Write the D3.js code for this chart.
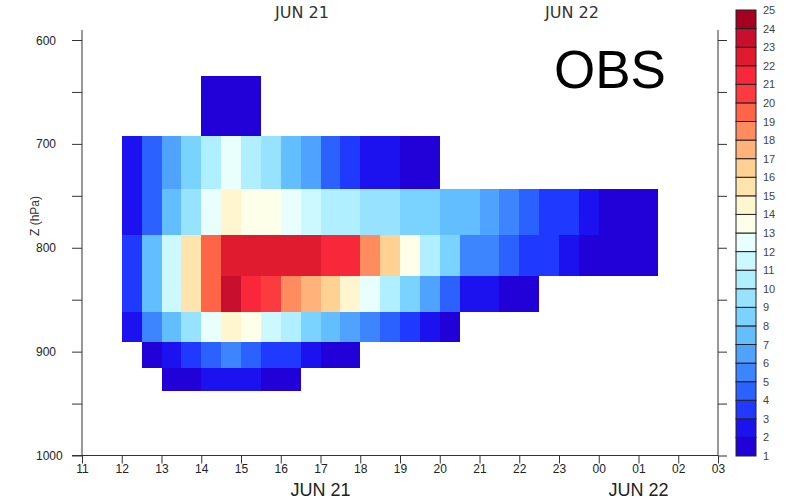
<!DOCTYPE html>
<html>
<head>
<meta charset="utf-8">
<script src="https://cdn.jsdelivr.net/npm/d3@7"></script>
<style>
  html, body { margin: 0; padding: 0; background: #fff; }
  svg { display: block; font-family: "Liberation Sans", Arial, sans-serif; }
</style>
</head>
<body>
<svg id="chart" width="787" height="500"></svg>
<script>
// ---------------- DATA ----------------
// hour ticks (11 on Jun 21 through 03 on Jun 22), expressed as hours from Jun 21 00:00
const hourTicks = d3.range(11, 28);
const pressureTicks = [600, 700, 800, 900, 1000];
const pressureMinorTicks = [650, 750, 850, 950];
// vertical bin edges (hPa) of the observed layers, top to bottom
const levelEdges = [635, 692, 743, 788, 827, 862, 891, 916, 938];
// start hour of each layer's first half-hour cell
const rowStarts = [14, 12, 12, 12, 12, 12, 12.5, 13];
// half-hourly values per layer
const row0 = [1.5, 1.5, 1.5];
const row1 = [2.5, 4.5, 6.5, 8.5, 10.5, 12.5, 10.5, 9.5, 7.5, 6.5, 4.5, 3.5, 2.5, 2.5, 1.5, 1.5];
const row2 = [2.5, 4.5, 7.5, 9.5, 12.5, 14.5, 13.5, 13.5, 12.5, 11.5, 10.5, 10.5, 9.5, 9.5, 8.5, 8.5, 7.5, 7.5, 6.5, 5.5, 4.5, 3.5, 3.5, 2.5, 1.5, 1.5, 1.5];
const row3 = [3.5, 7.5, 11.5, 15.5, 19.5, 22.5, 22.5, 22.5, 22.5, 22.5, 21.5, 21.5, 18.5, 16.5, 13.5, 10.5, 8.5, 5.5, 5.5, 4.5, 3.5, 3.5, 2.5, 1.5, 1.5, 1.5, 1.5];
const row4 = [3.5, 7.5, 11.5, 15.5, 19.5, 23.5, 21.5, 20.5, 18.5, 17.5, 16.5, 14.5, 12.5, 10.5, 8.5, 6.5, 4.5, 2.5, 2.5, 1.5, 1.5];
const row5 = [2.5, 5.5, 7.5, 9.5, 12.5, 14.5, 13.5, 11.5, 10.5, 8.5, 7.5, 6.5, 5.5, 4.5, 3.5, 2.5, 1.5];
const row6 = [1.5, 2.5, 3.5, 4.5, 5.5, 4.5, 3.5, 3.5, 2.5, 1.5, 1.5];
const row7 = [1.5, 1.5, 2.5, 2.5, 2.5, 1.5, 1.5];
const rows = [row0, row1, row2, row3, row4, row5, row6, row7];
// colour levels
const levels = d3.range(1, 26);
const levelColors = [
  "#2200d8", "#1b12ef", "#2039ff", "#2b62ff", "#3c85ff", "#50a2ff",
  "#62beff", "#7ad3ff", "#97e2ff", "#b0efff", "#ccf9ff", "#e8fffe",
  "#fdffe8", "#fff6d0", "#ffe4ae", "#ffd192", "#ffb279", "#fe8c5e",
  "#fd6546", "#fc3b3e", "#f8283a", "#e01b2f", "#c8102e", "#a50021"
];
const dayLabels = [{text: "JUN 21", h: 17}, {text: "JUN 22", h: 25}];

// ---------------- LAYOUT ----------------
const svg = d3.select("#chart");
const x = d3.scaleLinear().domain([11, 27]).range([82, 718]);
const y = d3.scaleLinear().domain([600, 1000]).range([40, 455.5]);
const color = d3.scaleThreshold().domain(levels.slice(1, -1)).range(levelColors);
const cellW = 0.5;

// cells
const cells = [];
rows.forEach((vals, r) => {
  vals.forEach((v, i) => {
    cells.push({t: rowStarts[r] + i * cellW, p0: levelEdges[r], p1: levelEdges[r + 1], v});
  });
});
const rx = t => Math.round(x(t)), ry = p => Math.round(y(p));
svg.append("g").attr("shape-rendering", "crispEdges")
  .selectAll("rect").data(cells).join("rect")
  .attr("x", d => rx(d.t))
  .attr("width", d => rx(d.t + cellW) - rx(d.t))
  .attr("y", d => ry(d.p0))
  .attr("height", d => ry(d.p1) - ry(d.p0))
  .attr("fill", d => color(d.v));

const axisColor = "#333";
// left axis
const gl = svg.append("g").attr("transform", `translate(${x(11)},0)`)
  .call(d3.axisLeft(y).tickValues(pressureTicks.concat(pressureMinorTicks)).tickSize(10).tickFormat(""));
gl.select(".domain").attr("d", `M0,30V${y(1000)}`);
svg.append("g").selectAll("text").data(pressureTicks).join("text")
  .attr("x", 36).attr("y", d => y(d) + 4.5)
  .attr("font-size", 12).attr("fill", "#222")
  .text(d => d);
// right axis
const gr = svg.append("g").attr("transform", `translate(${x(27)},0)`)
  .call(d3.axisRight(y).tickValues(pressureTicks.concat(pressureMinorTicks)).tickSize(9).tickFormat(""));
gr.select(".domain").attr("d", `M0,30V${y(1000)}`);
// bottom axis
const gb = svg.append("g").attr("transform", `translate(0,${y(1000)})`)
  .call(d3.axisBottom(x).tickValues(hourTicks).tickSize(8)
    .tickFormat(h => String(h % 24).padStart(2, "0")));
gb.select(".domain").attr("d", `M${x(11) - 10},0H${x(27)}`);
gb.selectAll("text").attr("font-size", 12).attr("fill", "#222").attr("dy", "0.55em")
  .attr("font-family", "'Liberation Sans', Arial, sans-serif");
[gl, gr, gb].forEach(g => {
  g.selectAll(".domain, line").attr("stroke", axisColor).attr("stroke-width", 1);
});

// bottom day labels
svg.append("g").selectAll("text").data(dayLabels).join("text")
  .attr("x", d => x(d.h)).attr("y", 496)
  .attr("text-anchor", "middle").attr("font-size", 18).attr("fill", "#222")
  .text(d => d.text);
// top day labels
svg.append("g").selectAll("text").data(dayLabels).join("text")
  .attr("x", (d, i) => i === 0 ? 302 : 572).attr("y", 18)
  .attr("text-anchor", "middle").attr("font-size", 16).attr("fill", "#333")
  .attr("font-family", "'Liberation Sans Narrow', 'DejaVu Sans Condensed', sans-serif")
  .attr("textLength", 54).attr("lengthAdjust", "spacingAndGlyphs")
  .text(d => d.text);

// y axis title
svg.append("text")
  .attr("transform", "translate(39,216) rotate(-90)")
  .attr("text-anchor", "middle").attr("font-size", 12).attr("fill", "#333")
  .text("Z (hPa)");

// OBS label
svg.append("text").attr("x", 554).attr("y", 88)
  .attr("font-size", 53).attr("fill", "#000").text("OBS");

// colour bar
const cb = d3.scaleLinear().domain([1, 25]).range([456, 10]);
const cbg = svg.append("g");
cbg.selectAll("rect").data(levelColors).join("rect")
  .attr("x", 736).attr("width", 20)
  .attr("y", (c, i) => cb(i + 2))
  .attr("height", (c, i) => cb(i + 1) - cb(i + 2))
  .attr("fill", c => c)
  .attr("stroke", "#222").attr("stroke-width", 1);
cbg.selectAll("text").data(levels).join("text")
  .attr("x", 763).attr("y", d => cb(d) + 4)
  .attr("font-size", 11).attr("fill", "#444")
  .text(d => d);
</script>
</body>
</html>
